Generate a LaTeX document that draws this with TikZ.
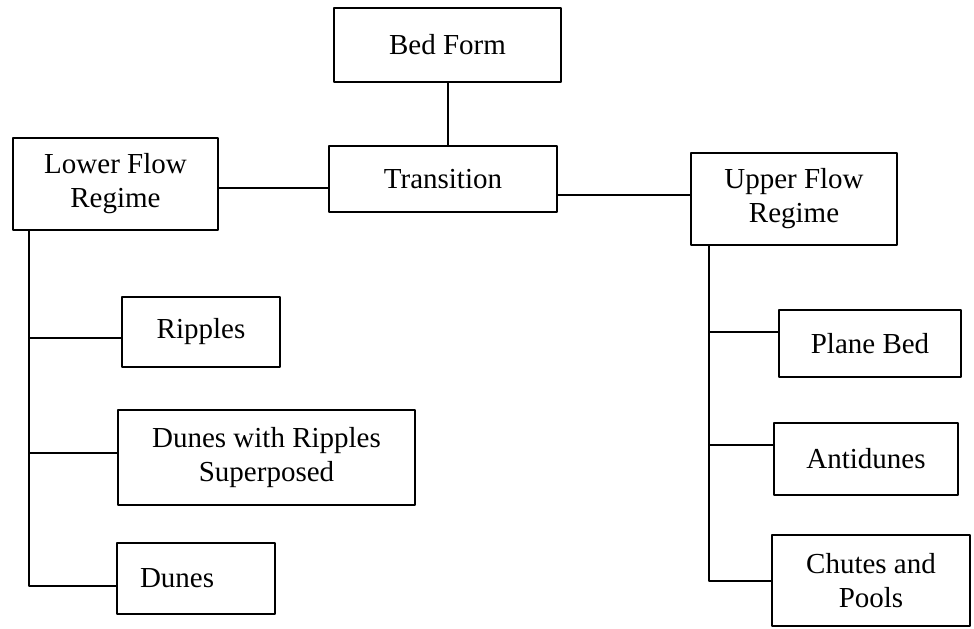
\documentclass[tikz,border=0pt]{standalone}
\usepackage{fontspec}
\setmainfont{Liberation Serif}

\begin{document}
\begin{tikzpicture}[line cap=round,line join=round,x=0.5pt,y=-0.5pt,
  box/.style={draw, line width=1pt, align=center, inner sep=0pt, font=\fontsize{14.5}{17}\selectfont},
  link/.style={line width=1pt}]
\useasboundingbox (0,0) rectangle (974,628);

% --- top row ---
\node[box, minimum width=113.5pt, minimum height=37pt] (bed) at (447.5,45) {Bed Form};
\node[box, minimum width=114pt, minimum height=33pt] (trans) at (443,179) {Transition};
\node[box, minimum width=102.5pt, minimum height=46pt] (lower) at (115.5,184) {Lower Flow\\Regime};
\node[box, minimum width=103pt, minimum height=46pt] (upper) at (794,199) {Upper Flow\\Regime};

% --- lower flow regime forms ---
\node[box, minimum width=79pt, minimum height=35pt] (ripples) at (201,332) {Ripples};
\node[box, minimum width=148.5pt, minimum height=47.5pt] (dunesrip) at (266.5,457.5) {Dunes with Ripples\\Superposed};
\node[box, text width=56pt, inner xsep=11.5pt, align=left, minimum height=35.5pt] (dunes) at (196,578.5) {Dunes};

% --- upper flow regime forms ---
\node[box, minimum width=91pt, minimum height=33.5pt] (plane) at (870,343.5) {Plane Bed};
\node[box, minimum width=92pt, minimum height=36pt] (anti) at (866,459) {Antidunes};
\node[box, minimum width=99pt, minimum height=45.5pt] (chutes) at (871,580.5) {Chutes and\\Pools};

% --- connectors ---
\draw[link] (bed.south) -- (bed.south |- trans.north);
\draw[link] ([yshift=-2pt]lower.east) -- ([yshift=-2pt]lower.east -| trans.west);
\draw[link] ([yshift=2pt]upper.west) -- ([yshift=2pt]upper.west -| trans.east);

% lower trunk
\coordinate (lowtrunk) at ([xshift=8.5pt]lower.south west);
\draw[link] (lowtrunk) |- ([yshift=-3.5pt]dunes.west);
\draw[link] (lowtrunk |- ripples.west) ++(0,6) -- ([yshift=-3pt]ripples.west);
\draw[link] (lowtrunk |- dunesrip.west) ++(0,-5) -- ([yshift=2.5pt]dunesrip.west);

% upper trunk
\coordinate (uptrunk) at ([xshift=9.5pt]upper.south west);
\draw[link] (uptrunk) |- (chutes.west);
\draw[link] (uptrunk |- plane.west) ++(0,-12) -- ([yshift=6pt]plane.west);
\draw[link] (uptrunk |- anti.west) ++(0,-14) -- ([yshift=7pt]anti.west);

\end{tikzpicture}
\end{document}
